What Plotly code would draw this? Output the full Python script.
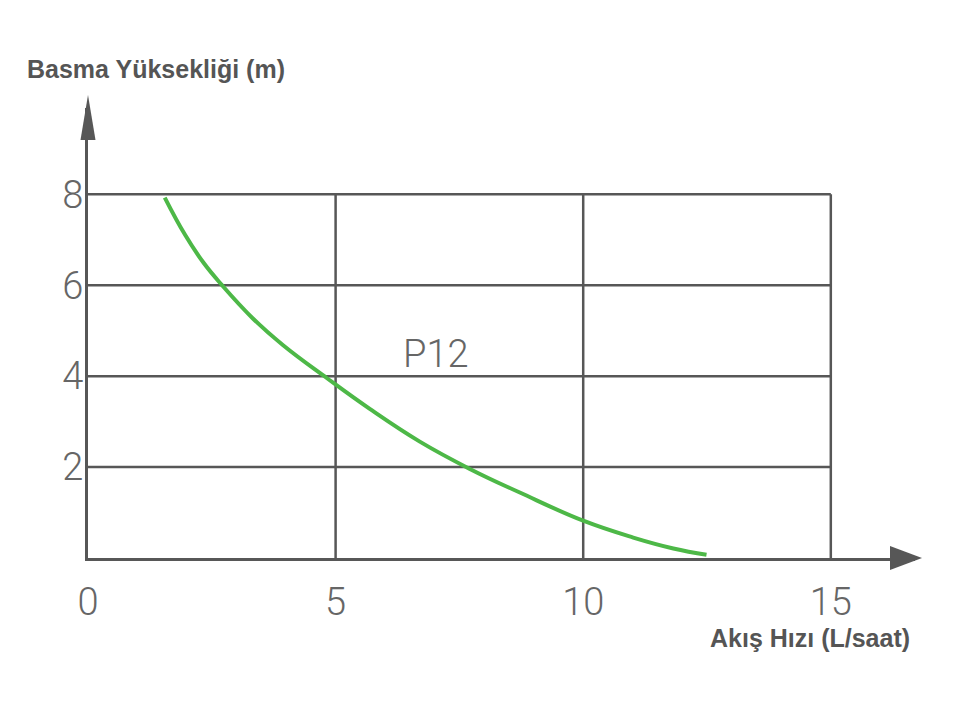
import plotly.graph_objects as go

# ---- data ----
flow = [1.55, 1.96, 2.33, 2.70, 3.33, 3.94, 4.82, 5.69, 6.70, 7.71, 8.72, 10.00, 11.01, 11.82, 12.49]
head = [7.93, 7.11, 6.50, 6.01, 5.27, 4.68, 3.96, 3.28, 2.56, 1.96, 1.44, 0.82, 0.45, 0.21, 0.07]
x_ticks = [0, 5, 10, 15]
y_ticks = [2, 4, 6, 8]
series_name = "P12"
x_title = "Akış Hızı (L/saat)"
y_title = "Basma Yüksekliği (m)"

# ---- style ----
OFF = 8  # page body margin
W, H = 960 - OFF, 712 - OFF
ML, MR, MT, MB = 88 - OFF, 45, 108 - OFF, 154
XR = [0, 16.7]
YR = [0, 9.9]
LINE = "#575757"
TICK = "#666666"
GREEN = "#4db847"

pw = W - ML - MR
ph = H - MT - MB
def px_x(p):  # screen pixel -> paper x
    return (p - OFF - ML) / pw
def px_y(p):  # screen pixel -> paper y
    return (H - MB - (p - OFF)) / ph

fig = go.Figure()
fig.add_trace(go.Scatter(
    x=flow, y=head, mode="lines", name=series_name,
    line=dict(color=GREEN, width=4, shape="spline", smoothing=1.2),
    showlegend=False, hoverinfo="skip",
))

shapes = []
# grid box bounded by the last ticks
for xv in x_ticks[1:]:
    shapes.append(dict(type="line", xref="x", yref="y", x0=xv, x1=xv, y0=0, y1=max(y_ticks),
                       line=dict(color=LINE, width=2.5), layer="below"))
for yv in y_ticks:
    shapes.append(dict(type="line", xref="x", yref="y", x0=0, x1=max(x_ticks), y0=yv, y1=yv,
                       line=dict(color=LINE, width=2.5), layer="below"))

# arrow heads (decoration, paper coordinates)
ax_tip, ax_base, ax_half = px_x(922), px_x(890), 12 / ph
shapes.append(dict(type="path", xref="paper", yref="paper",
                   path=f"M {ax_base},{-ax_half} L {ax_tip},0 L {ax_base},{ax_half} Z",
                   fillcolor=LINE, line=dict(width=0)))
ay_tip, ay_base, ay_half = px_y(95), px_y(140), 7.5 / pw
shapes.append(dict(type="path", xref="paper", yref="paper",
                   path=f"M {-ay_half},{ay_base} L 0,{ay_tip} L {ay_half},{ay_base} Z",
                   fillcolor=LINE, line=dict(width=0)))

tickfont = dict(family="Roboto", size=38, color=TICK, weight=300)
titlefont = dict(family="Liberation Sans", size=25, color="#555555")

fig.update_layout(
    width=W, height=H,
    margin=dict(l=ML, r=MR, t=MT, b=MB, pad=0),
    paper_bgcolor="white", plot_bgcolor="white",
    shapes=shapes,
    xaxis=dict(range=XR, tickvals=x_ticks, ticktext=[str(v) for v in x_ticks],
               showgrid=False, zeroline=False, showline=True, linecolor=LINE, linewidth=3,
               ticks="outside", ticklen=8, tickcolor="rgba(0,0,0,0)", tickfont=tickfont,
               fixedrange=True),
    yaxis=dict(range=YR, tickvals=y_ticks, ticktext=[str(v) for v in y_ticks],
               showgrid=False, zeroline=False, showline=True, linecolor=LINE, linewidth=3,
               ticks="", ticklabelstandoff=-6, tickfont=tickfont, fixedrange=True),
    annotations=[
        dict(text=series_name, x=7.02, y=4.48, xref="x", yref="y", showarrow=False,
             font=tickfont, xanchor="center", yanchor="middle"),
        dict(text=f"<b>{y_title}</b>", x=px_x(25), y=px_y(69), xref="paper", yref="paper",
             showarrow=False, xanchor="left", yanchor="middle", font=titlefont),
        dict(text=f"<b>{x_title}</b>", x=px_x(912), y=px_y(638), xref="paper", yref="paper",
             showarrow=False, xanchor="right", yanchor="middle", font=titlefont),
    ],
)

fig.write_html("out.html")
